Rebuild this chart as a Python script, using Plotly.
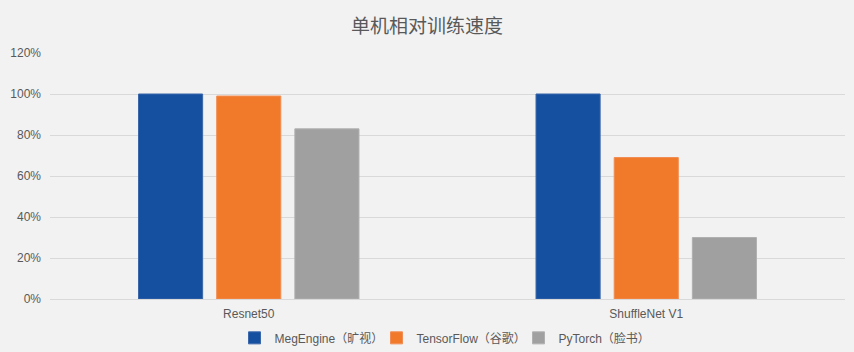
import plotly.graph_objects as go

categories = ["Resnet50", "ShuffleNet V1"]
series_names = ["MegEngine（旷视）", "TensorFlow（谷歌）", "PyTorch（脸书）"]
megengine = [1.00, 1.00]
tensorflow = [0.99, 0.69]
pytorch = [0.83, 0.30]
colors = ["#1550a0", "#f07a2a", "#a0a0a0"]
edge_colors = ["#3a66aa", "#f28c52", "#b0b0b0"]
tick_vals = [0, 0.2, 0.4, 0.6, 0.8, 1.0, 1.2]
tick_text = ["0%", "20%", "40%", "60%", "80%", "100%", "120%"]

font_family = "Liberation Sans, Arial, Noto Sans CJK SC, sans-serif"

fig = go.Figure()
for name, vals, c, ec in zip(series_names, [megengine, tensorflow, pytorch], colors, edge_colors):
    fig.add_trace(go.Bar(
        x=categories, y=vals, name=name,
        marker=dict(color=c, line=dict(color=ec, width=1)),
    ))

fig.update_layout(
    width=854, height=352,
    paper_bgcolor="#f2f2f2", plot_bgcolor="#f2f2f2",
    margin=dict(l=50, r=9, t=53, b=53, autoexpand=False),
    barmode="group", bargap=0.41, bargroupgap=0.18,
    title=dict(text="单机相对训练速度", x=0.5, xanchor="center", y=0.925, yanchor="middle",
               font=dict(family="Noto Sans CJK SC, sans-serif", size=19, color="#595959")),
    font=dict(family=font_family, size=12, color="#595959"),
    showlegend=True,
    legend=dict(orientation="h", x=0.5, xanchor="center", y=-0.158, yanchor="middle",
                font=dict(family=font_family, size=12, color="#595959"),
                itemwidth=30, entrywidth=97, entrywidthmode="pixels",
                traceorder="normal", bgcolor="rgba(0,0,0,0)"),
    yaxis=dict(range=[0, 1.2], tickvals=tick_vals, ticktext=tick_text,
               showgrid=True, gridcolor="#d9d9d9", gridwidth=1,
               zeroline=True, zerolinecolor="#d9d9d9", zerolinewidth=1,
               showline=False, ticklabelstandoff=8,
               tickfont=dict(size=12, color="#595959")),
    xaxis=dict(showline=False, showgrid=False, ticks="", ticklabelstandoff=6,
               tickfont=dict(size=12, color="#595959")),
)

fig.write_html("out.html")
